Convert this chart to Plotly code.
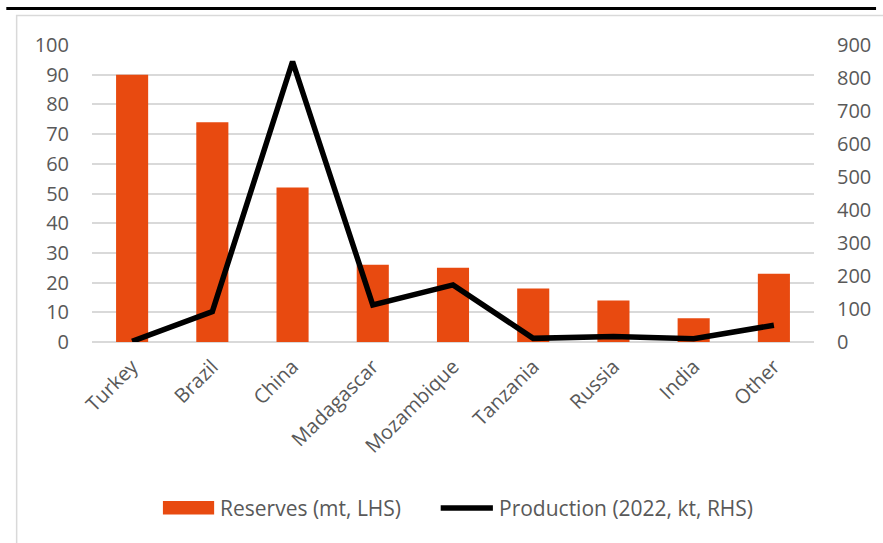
import plotly.graph_objects as go

categories = ["Turkey", "Brazil", "China", "Madagascar", "Mozambique",
              "Tanzania", "Russia", "India", "Other"]
reserves_mt = [90, 74, 52, 26, 25, 18, 14, 8, 23]
production_kt = [2, 92, 850, 112, 173, 11, 17, 10, 51]
left_ticks = list(range(0, 101, 10))
right_ticks = list(range(0, 901, 100))
series_names = ["Reserves (mt, LHS)", "Production (2022, kt, RHS)"]

TEXT = "#595959"
GRID = "#d9d9d9"
ORANGE = "#E84A10"
FONT = "Open Sans"
FS = 20
LFS = 21

fig = go.Figure()
fig.add_trace(go.Bar(
    x=categories, y=reserves_mt, name=series_names[0],
    marker=dict(color=ORANGE, line=dict(width=0)), yaxis="y",
    showlegend=False,
))
fig.add_trace(go.Scatter(
    x=categories, y=production_kt, name=series_names[1],
    mode="lines", line=dict(color="black", width=5.5), yaxis="y2",
    showlegend=False,
))

W, H = 883, 543
L, R, T, B = 92, 58, 45, 201
pw, ph = W - L - R, H - T - B


def px(x):
    return (x - L) / pw


def py(y):
    return (H - B - y) / ph


legend_y = 508
shapes = [
    # outer chart frame
    dict(type="rect", xref="paper", yref="paper",
         x0=px(15.5), x1=px(W + 20), y0=py(15.5), y1=py(H + 20),
         line=dict(color=GRID, width=1.5), fillcolor="rgba(0,0,0,0)",
         layer="below"),
    # rule under the (cropped) title
    dict(type="line", xref="paper", yref="paper",
         x0=px(5), x1=px(W + 5), y0=py(8.5), y1=py(8.5),
         line=dict(color="black", width=3)),
    # legend swatches
    dict(type="rect", xref="paper", yref="paper",
         x0=px(164), x1=px(216), y0=py(501), y1=py(514.5),
         line=dict(width=0), fillcolor=ORANGE),
    dict(type="line", xref="paper", yref="paper",
         x0=px(446), x1=px(499), y0=py(legend_y), y1=py(legend_y),
         line=dict(color="black", width=5.5)),
]
annotations = [
    dict(text=series_names[0], xref="paper", yref="paper",
         x=px(220), y=py(legend_y), xanchor="left", yanchor="middle",
         showarrow=False, font=dict(family=FONT, size=LFS, color=TEXT)),
    dict(text=series_names[1], xref="paper", yref="paper",
         x=px(503), y=py(legend_y), xanchor="left", yanchor="middle",
         showarrow=False, font=dict(family=FONT, size=LFS, color=TEXT)),
]

fig.update_layout(
    width=W, height=H,
    margin=dict(l=L, r=R, t=T, b=B, pad=0),
    paper_bgcolor="white", plot_bgcolor="white",
    font=dict(family=FONT, size=FS, color=TEXT),
    bargap=0.6,
    showlegend=False,
    xaxis=dict(showgrid=False, showline=False, zeroline=False,
               tickangle=-45, ticks="", ticklabelstandoff=8,
               tickfont=dict(size=FS, color=TEXT)),
    yaxis=dict(range=[0, 100], tickvals=left_ticks, showgrid=True,
               gridcolor=GRID, gridwidth=1.5, zeroline=True,
               zerolinecolor=GRID, zerolinewidth=1.5, showline=False,
               ticks="", ticklabelstandoff=22,
               tickfont=dict(size=FS, color=TEXT)),
    yaxis2=dict(range=[0, 900], tickvals=right_ticks, overlaying="y",
                side="right", showgrid=False, zeroline=False, showline=False,
                ticks="", ticklabelstandoff=22,
                tickfont=dict(size=FS, color=TEXT)),
    shapes=shapes,
    annotations=annotations,
)

fig.write_html("out.html")
